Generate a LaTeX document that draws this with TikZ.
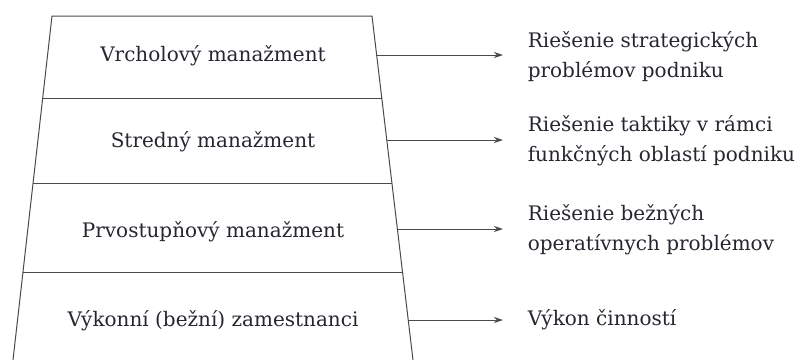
\documentclass[tikz,border=0pt]{standalone}
\usepackage{fontspec}
\setmainfont{DejaVu Serif}
\usepackage{tikz}
\usetikzlibrary{arrows.meta}

\definecolor{inkline}{HTML}{4A4A4A}
\definecolor{inktext}{HTML}{262630}

\begin{document}
\begin{tikzpicture}[x=1pt, y=-1pt, line width=1pt,
	every node/.style={text=inktext, font=\fontsize{20}{30}\selectfont},
	level/.style={anchor=center},
	task/.style={anchor=west, align=left},
	toarrow/.style={draw=inkline, -{Stealth[length=9pt, width=6pt]}, shorten >=21pt}]
	\useasboundingbox (0, 0) rectangle (798, 360);
	% corners of the pyramid
	\coordinate (tl) at (52, 16);
	\coordinate (tr) at (372, 16);
	\coordinate (bl) at (13, 360);
	\coordinate (br) at (413, 360);
	\draw [inkline] (bl) -- (tl) -- (tr) -- (br);
	\draw [inkline] (42.7, 98) -- (381.8, 98);
	\draw [inkline] (33.1, 183) -- (391.9, 183);
	\draw [inkline] (23.0, 272) -- (402.5, 272);
	% levels
	\node [level] (v1) at (213, 56) {Vrcholový manažment};
	\node [level] (v2) at (213, 142) {Stredný manažment};
	\node [level] (v3) at (213, 232) {Prvostupňový manažment};
	\node [level] (v4) at (213, 321) {Výkonní (bežní) zamestnanci};
	% tasks
	\node [task] (r1) at (524, 57) {Riešenie strategických\\problémov podniku};
	\node [task] (r2) at (524, 141) {Riešenie taktiky v rámci\\funkčných oblastí podniku};
	\node [task] (r3) at (524, 230) {Riešenie bežných\\operatívnych problémov};
	\node [task] (r4) at (524, 320) {Výkon činností};
	% arrows from the right side
	\coordinate (e1) at (376.8, 55);
	\coordinate (e2) at (386.9, 140);
	\coordinate (e3) at (397.5, 229);
	\coordinate (e4) at (408.0, 320);
	\draw [toarrow] (e1) -- (e1 -| r1.west);
	\draw [toarrow] (e2) -- (e2 -| r2.west);
	\draw [toarrow] (e3) -- (e3 -| r3.west);
	\draw [toarrow] (e4) -- (e4 -| r4.west);
\end{tikzpicture}
\end{document}
